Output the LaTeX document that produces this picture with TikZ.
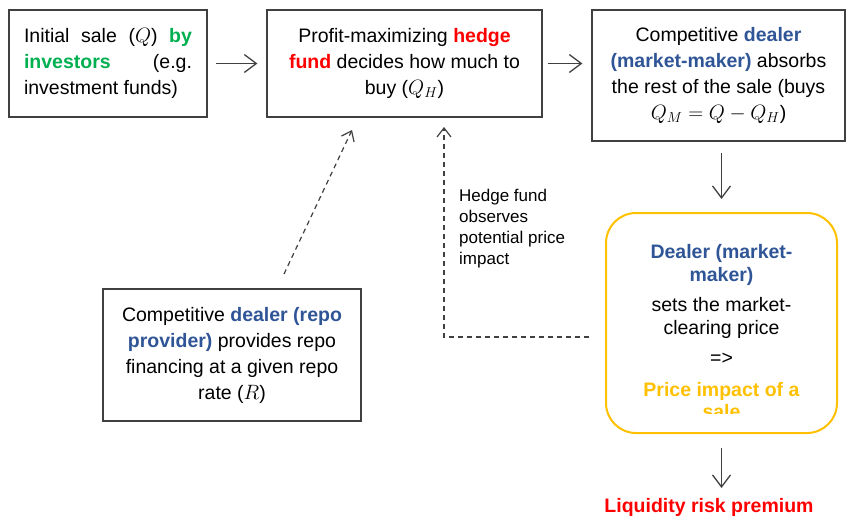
\documentclass[tikz,border=0pt]{standalone}
\usepackage{fontspec}
\setmainfont{Liberation Sans}
\usetikzlibrary{arrows.meta}
\definecolor{dblue}{HTML}{2F5597}
\definecolor{dgreen}{HTML}{00B050}
\definecolor{dyellow}{HTML}{FFC000}
\definecolor{dred}{HTML}{FF0000}
\definecolor{edge}{HTML}{404040}
\newcommand{\bl}[1]{\textcolor{dblue}{\textbf{#1}}}
\tikzset{
  box/.style={draw=edge, line width=1.2pt, inner sep=0pt, align=center,
    font=\fontsize{19.5}{26}\selectfont},
  flow/.style={draw=edge, line width=1.3pt, -{Straight Barb[length=12pt,width=18pt,line width=1.3pt]}},
  dflow/.style={draw=edge, line width=1.2pt, dash pattern=on 5pt off 4pt,
    -{Straight Barb[length=9pt,width=14pt,line width=1.2pt]}},
}
\begin{document}
\begin{tikzpicture}[x=1pt,y=-1pt]
\useasboundingbox (0,0) rectangle (846,516);
% boxes
\node[box, minimum width=198pt, minimum height=107pt] (b1) at (108,63.5)
  {\parbox{168pt}{\fontsize{19.5}{26}\selectfont Initial\hfill sale\hfill ($Q$)\hfill \textcolor{dgreen}{\textbf{by}}\\
   \textcolor{dgreen}{\textbf{investors}}\hfill (e.g.\\ investment funds)}};
\node[box, minimum width=275pt, minimum height=107pt] (b2) at (404.5,63.5)
  {Profit-maximizing \textcolor{dred}{\textbf{hedge}}\\
   \textcolor{dred}{\textbf{fund}} decides how much to\\ buy ($Q_H$)};
\node[box, minimum width=253pt, minimum height=131pt] (b3) at (718.5,75.5)
  {Competitive \bl{dealer}\\ \bl{(market-maker)} absorbs\\
   the rest of the sale (buys\\ $Q_M=Q-Q_H$)};
\node[box, minimum width=258pt, minimum height=132pt] (b4) at (232,355)
  {Competitive \bl{dealer (repo}\\ \bl{provider)} provides repo\\
   financing at a given repo\\ rate ($R$)};
\node[draw=dyellow, line width=2pt, rounded corners=30pt, minimum width=231pt,
  minimum height=220pt] (y) at (721.5,323) {};
\begin{scope}
  \clip (606,213) rectangle (837,413);
  \node[align=center, inner sep=0pt, font=\fontsize{19.5}{22.5}\selectfont] (yt) at (721.5,332)
   {\bl{Dealer (market-}\\ \bl{maker)}\\[8pt]
    sets the market-\\ clearing price\\[8pt] =>\\[9pt]
    \textcolor{dyellow}{\textbf{Price impact of a}}\\ \textcolor{dyellow}{\textbf{sale}}};
\end{scope}
\node[inner sep=0pt, font=\fontsize{19.5}{22}\selectfont\bfseries, text=dred] (liq) at (709,507)
  {Liquidity risk premium};
\node[anchor=west, align=left, inner sep=0pt, font=\fontsize{17}{21}\selectfont] (lab) at (459,229)
  {Hedge fund\\ observes\\ potential price\\ impact};
% connectors
\draw[flow, shorten <=8pt, shorten >=9pt] (b1.east) -- (b2.west);
\draw[flow, shorten <=5pt, shorten >=9pt] (b2.east) -- (b2.east -| b3.west);
\draw[flow, shorten <=11pt, shorten >=13pt] (b3.south -| y.north) -- (y.north);
\coordinate (lq) at (721.5,497);
\draw[flow, shorten <=14pt, shorten >=9pt] (y.south) -- (lq);
\coordinate (d1) at (589,337);
\coordinate (d2) at (444,117);
\draw[dflow, shorten >=10pt] (d1) -| (d2);
\coordinate (r1) at (284,274);
\coordinate (r2) at (352,130);
\draw[dflow] (r1) -- (r2);
\end{tikzpicture}
\end{document}
